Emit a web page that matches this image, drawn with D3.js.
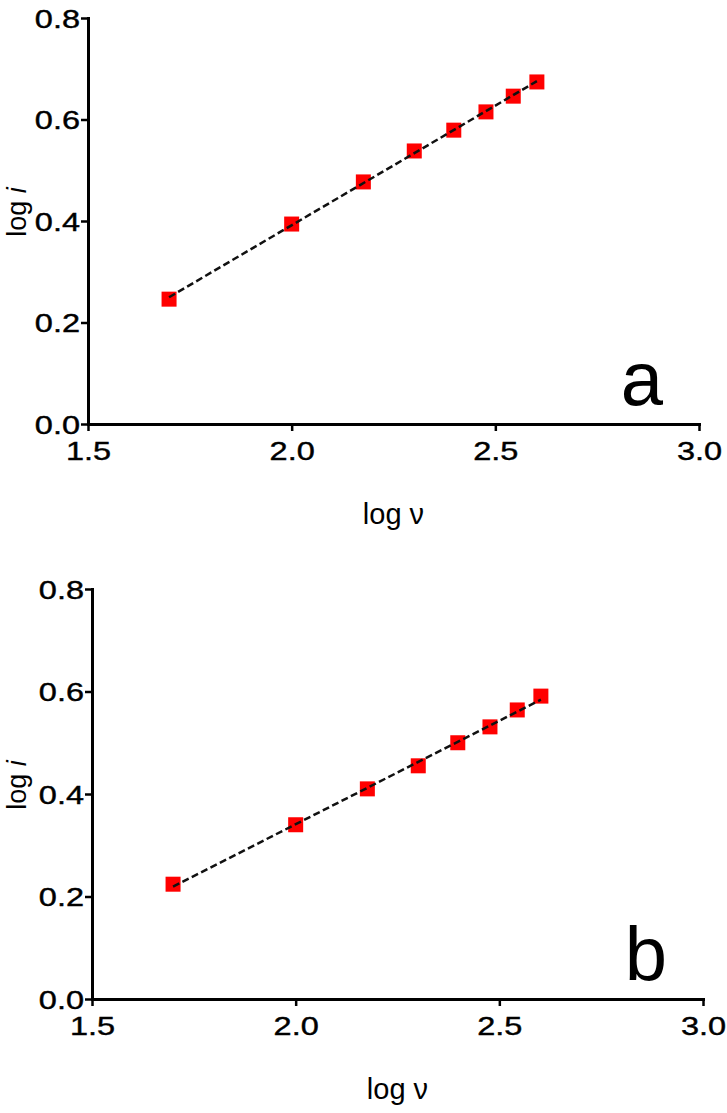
<!DOCTYPE html>
<html>
<head>
<meta charset="utf-8">
<script src="https://cdn.jsdelivr.net/npm/d3@7"></script>
<style>
  body { margin: 0; background: #fff; }
  svg { display: block; font-family: "Liberation Sans", Arial, sans-serif; }
</style>
</head>
<body>
<svg id="chart" width="727" height="1113"></svg>
<script>
// scan rates (log v) shared by both panels
const logV = [1.699, 2.000, 2.176, 2.301, 2.398, 2.477, 2.544, 2.602];
// peak currents (log i)
const logIa = [0.246, 0.394, 0.477, 0.538, 0.579, 0.615, 0.646, 0.674];
const logIb = [0.224, 0.340, 0.410, 0.455, 0.500, 0.531, 0.564, 0.591];

const xTicks = [1.5, 2.0, 2.5, 3.0];
const yTicks = [0.0, 0.2, 0.4, 0.6, 0.8];
const xDomain = [1.5, 3.0];
const yDomain = [0.0, 0.8];

const panels = [
  { tag: "a", values: logIa, left: 88, right: 699, bottom: 424, top: 18 },
  { tag: "b", values: logIb, left: 92, right: 703, bottom: 999, top: 589 }
];

const svg = d3.select("#chart");

function fit(xs, ys) {
  const mx = d3.mean(xs), my = d3.mean(ys);
  let sxy = 0, sxx = 0;
  xs.forEach(function (x, i) {
    sxy += (x - mx) * (ys[i] - my);
    sxx += (x - mx) * (x - mx);
  });
  const slope = sxy / sxx;
  return { slope: slope, icpt: my - slope * mx };
}

panels.forEach(function (p) {
  const x = d3.scaleLinear().domain(xDomain).range([p.left, p.right]);
  const y = d3.scaleLinear().domain(yDomain).range([p.bottom, p.top]);
  const g = svg.append("g");

  // axes
  const yAxis = g.append("g")
    .attr("transform", "translate(" + p.left + ",0)")
    .call(d3.axisLeft(y).tickValues(yTicks).tickSize(7).tickSizeOuter(0).tickFormat(d3.format(".1f")));
  const xAxis = g.append("g")
    .attr("transform", "translate(0," + p.bottom + ")")
    .call(d3.axisBottom(x).tickValues(xTicks).tickSize(7).tickSizeOuter(0).tickFormat(d3.format(".1f")));

  [xAxis, yAxis].forEach(function (ax) {
    ax.select(".domain").attr("stroke", "#000").attr("stroke-width", 3).attr("stroke-linecap", "square");
    ax.selectAll(".tick line").attr("stroke", "#000").attr("stroke-width", 2.5);
    ax.selectAll(".tick text")
      .attr("fill", "#000")
      .attr("stroke", "#000")
      .attr("stroke-width", 0.4)
      .attr("font-size", 25)
      .attr("font-family", "'Liberation Sans', Arial, sans-serif");
  });
  yAxis.selectAll(".tick text").attr("x", -8 / 1.3).attr("dy", "0.36em").attr("transform", "scale(1.3,1)");
  xAxis.selectAll(".tick text").attr("y", 18).attr("dy", "0.71em").attr("transform", "scale(1.3,1)");

  // regression line
  const f = fit(logV, p.values);
  const x0 = d3.min(logV), x1 = d3.max(logV);

  // markers
  const s = 15;
  g.selectAll("rect.pt")
    .data(logV.map(function (v, i) { return [v, p.values[i]]; }))
    .enter()
    .append("rect")
    .attr("class", "pt")
    .attr("x", function (d) { return x(d[0]) - s / 2; })
    .attr("y", function (d) { return y(d[1]) - s / 2; })
    .attr("width", s)
    .attr("height", s)
    .attr("fill", "#ff0000");

  // dashed fit drawn over the markers like the original
  g.append("line")
    .attr("x1", x(x0)).attr("y1", y(f.slope * x0 + f.icpt))
    .attr("x2", x(x1)).attr("y2", y(f.slope * x1 + f.icpt))
    .attr("stroke", "#111")
    .attr("stroke-width", 2.5)
    .attr("stroke-dasharray", "7,3.5");

  // axis titles
  const cy = (p.top + p.bottom) / 2 - 9;
  const yt = g.append("text")
    .attr("transform", "translate(26," + cy + ") rotate(-90)")
    .attr("text-anchor", "middle")
    .attr("font-size", 27);
  yt.append("tspan").text("log ");
  yt.append("tspan").attr("font-style", "italic").text("i");

  g.append("text")
    .attr("x", (p.left + p.right) / 2)
    .attr("y", p.bottom + 100)
    .attr("text-anchor", "middle")
    .attr("font-size", 29)
    .text("log \u03bd");

  // panel tag
  g.append("text")
    .attr("x", x(2.86))
    .attr("y", p.bottom - 19)
    .attr("text-anchor", "middle")
    .attr("font-size", 76)
    .text(p.tag);
});
</script>
</body>
</html>
